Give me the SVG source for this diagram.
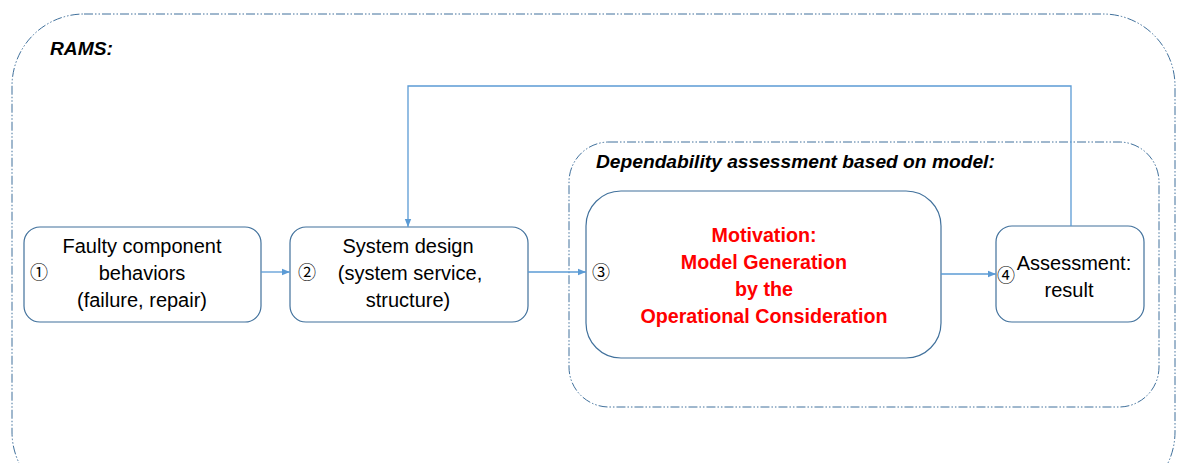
<svg xmlns="http://www.w3.org/2000/svg" width="1177" height="463" viewBox="0 0 1177 463">
<style>
.cont{fill:none;stroke:#41719C;stroke-width:1;stroke-dasharray:9,2,1.5,2,1.5,2}
.node{fill:#fff;stroke:#41719C;stroke-width:1.2}
.t{font-family:"Liberation Sans",Arial,sans-serif;font-size:20px;fill:#000;text-anchor:middle}
.r{font-family:"Liberation Sans",Arial,sans-serif;font-size:19.7px;font-weight:bold;fill:#FF0000;text-anchor:middle}
.h{font-family:"Liberation Sans",Arial,sans-serif;font-size:19.2px;font-weight:bold;font-style:italic;fill:#000}
.n{font-family:"Noto Sans CJK SC","Noto Sans CJK JP",sans-serif;font-size:18px;fill:#000}
.c{fill:none;stroke:#5B9BD5;stroke-width:1.3}
</style>
<defs>
<marker id="ah" viewBox="0 0 10 10" refX="10" refY="5" markerWidth="8" markerHeight="8" markerUnits="userSpaceOnUse" orient="auto">
<path d="M0,1 L10,5 L0,9 z" fill="#5B9BD5"/>
</marker>
</defs>
<g id="rams">
<rect class="cont" x="12" y="14" width="1163" height="490" rx="72"/>
<text class="h" x="50" y="55">RAMS:</text>
</g>
<g id="dependability">
<rect class="cont" x="569" y="142" width="590" height="265" rx="40"/>
<text class="h" x="596" y="168">Dependability assessment based on model:</text>
</g>
<g id="n1">
<rect class="node" x="24" y="227" width="237" height="95" rx="16"/>
<text class="n" x="30" y="279">①</text>
<text class="t" x="142" y="253">Faulty component</text>
<text class="t" x="142" y="280">behaviors</text>
<text class="t" x="142" y="307">(failure, repair)</text>
</g>
<g id="n2">
<rect class="node" x="290" y="227" width="238" height="95" rx="16"/>
<text class="n" x="298" y="279">②</text>
<text class="t" x="408" y="253">System design</text>
<text class="t" x="410" y="280">(system service,</text>
<text class="t" x="408" y="307">structure)</text>
</g>
<g id="n3">
<rect class="node" x="586" y="191" width="355" height="167" rx="35"/>
<text class="n" x="592" y="279">③</text>
<text class="r" x="764" y="242">Motivation:</text>
<text class="r" x="764" y="269">Model Generation</text>
<text class="r" x="764" y="296">by the</text>
<text class="r" x="764" y="323">Operational Consideration</text>
</g>
<g id="n4">
<rect class="node" x="996" y="226" width="148" height="96" rx="16"/>
<text class="n" x="997" y="282">④</text>
<text class="t" x="1074" y="270">Assessment:</text>
<text class="t" x="1069" y="297">result</text>
</g>
<g id="connectors">
<line class="c" x1="261" y1="272" x2="290" y2="272" marker-end="url(#ah)"/>
<line class="c" x1="528" y1="272" x2="586" y2="272" marker-end="url(#ah)"/>
<line class="c" x1="941" y1="274" x2="996" y2="274" marker-end="url(#ah)"/>
<polyline class="c" points="1071,226 1071,86 408,86 408,227" marker-end="url(#ah)"/>
</g>
</svg>
